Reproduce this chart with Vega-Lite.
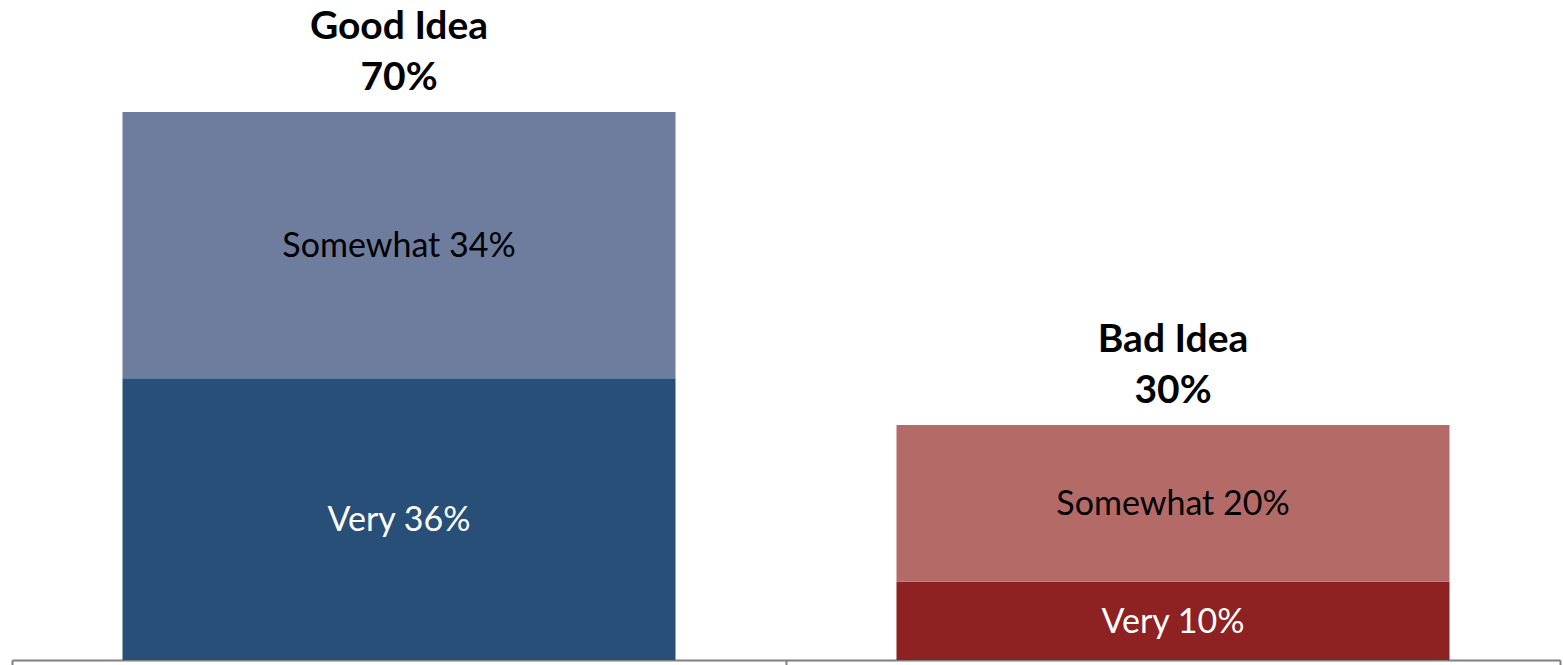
{
  "$schema": "https://vega.github.io/schema/vega-lite/v6.json",
  "autosize": "none",
  "width": 1548,
  "height": 660,
  "padding": {"left": 12, "top": 0, "right": 3, "bottom": 5},
  "background": "white",
  "config": {"view": {"stroke": null}, "font": "Lato"},
  "datasets": {
    "segs": [
      {"idea": "Good Idea", "level": "Very", "order": 1, "value": 36, "key": "Good Very", "label": "Very 36%"},
      {"idea": "Good Idea", "level": "Somewhat", "order": 2, "value": 34, "key": "Good Somewhat", "label": "Somewhat 34%"},
      {"idea": "Bad Idea", "level": "Very", "order": 1, "value": 10, "key": "Bad Very", "label": "Very 10%"},
      {"idea": "Bad Idea", "level": "Somewhat", "order": 2, "value": 20, "key": "Bad Somewhat", "label": "Somewhat 20%"}
    ],
    "totals": [
      {"idea": "Good Idea", "total": 70, "label": "Good Idea\n70%"},
      {"idea": "Bad Idea", "total": 30, "label": "Bad Idea\n30%"}
    ]
  },
  "layer": [
    {
      "data": {"name": "segs"},
      "mark": {"type": "bar", "width": {"band": 0.7145}},
      "encoding": {
        "x": {
          "field": "idea", "type": "nominal", "sort": ["Good Idea", "Bad Idea"],
          "scale": {"paddingInner": 0, "paddingOuter": 0},
          "axis": {"title": null, "labels": false, "grid": false, "tickBand": "extent", "tickSize": 5, "tickColor": "#7f7f7f", "tickWidth": 2, "domainColor": "#7f7f7f", "domainWidth": 2}
        },
        "y": {"field": "value", "type": "quantitative", "stack": "zero", "scale": {"domain": [0, 84.3], "nice": false}, "axis": null},
        "order": {"field": "order"},
        "color": {
          "field": "key", "type": "nominal", "legend": null,
          "scale": {"domain": ["Good Very", "Good Somewhat", "Bad Very", "Bad Somewhat"], "range": ["#284f78", "#6e7c9e", "#8e2222", "#b46b67"]}
        }
      }
    },
    {
      "data": {"name": "segs"},
      "transform": [
        {"stack": "value", "groupby": ["idea"], "sort": [{"field": "order"}], "as": ["v0", "v1"]},
        {"calculate": "(datum.v0 + datum.v1) / 2", "as": "mid"}
      ],
      "mark": {"type": "text", "fontSize": 34, "baseline": "middle", "align": "center", "dy": 2},
      "encoding": {
        "x": {"field": "idea", "type": "nominal", "sort": ["Good Idea", "Bad Idea"]},
        "y": {"field": "mid", "type": "quantitative"},
        "text": {"field": "label"},
        "color": {
          "field": "level", "type": "nominal", "legend": null,
          "scale": {"domain": ["Very", "Somewhat"], "range": ["#ffffff", "#000000"]}
        }
      }
    },
    {
      "data": {"name": "totals"},
      "mark": {"type": "text", "fontSize": 39, "fontWeight": "bold", "baseline": "middle", "align": "center", "lineBreak": "\n", "lineHeight": 51, "dy": -85, "color": "#000000"},
      "encoding": {
        "x": {"field": "idea", "type": "nominal", "sort": ["Good Idea", "Bad Idea"]},
        "y": {"field": "total", "type": "quantitative"},
        "text": {"field": "label"}
      }
    }
  ],
  "resolve": {"scale": {"color": "independent"}}
}
